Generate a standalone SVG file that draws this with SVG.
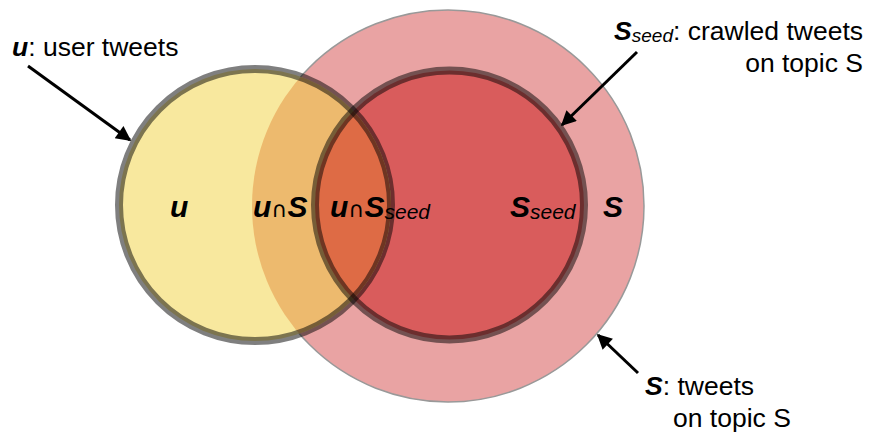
<svg xmlns="http://www.w3.org/2000/svg" width="869" height="432" viewBox="0 0 869 432">
  <style>
    .lbl { font-family: "Liberation Sans", Arial, sans-serif; font-size: 26.5px; fill: #000; }
    .in { font-family: "Liberation Sans", Arial, sans-serif; font-size: 30px; font-weight: bold; font-style: italic; fill: #000; }
    .cap { font-family: "DejaVu Sans", "Liberation Sans", sans-serif; font-size: 22px; font-weight: normal; font-style: normal; }
    .sub { font-size: 21px; font-weight: normal; font-style: italic; }
    .bi { font-weight: bold; font-style: italic; }
    .ring { fill: none; stroke: #000; stroke-opacity: 0.5; stroke-width: 8; }
    .arrow { stroke: #000; stroke-width: 3; fill: none; marker-end: url(#ah); }
  </style>
  <defs>
    <marker id="ah" viewBox="0 0 10 10" refX="9" refY="5" markerWidth="5.5" markerHeight="5" orient="auto" markerUnits="strokeWidth">
      <path d="M0,0 L10,5 L0,10 Z" fill="#000"/>
    </marker>
    <clipPath id="clipU"><circle cx="255" cy="205" r="136"/></clipPath>
  </defs>

  <g id="S">
    <circle cx="448" cy="206" r="196" fill="#E9A3A3" stroke="#999" stroke-width="1.5"/>
  </g>
  <g id="Sseed">
    <circle cx="449.5" cy="205" r="134.5" fill="#D95C5C"/>
  </g>
  <g id="u">
    <circle cx="255" cy="205" r="136" fill="#F8E89E"/>
    <g clip-path="url(#clipU)">
      <circle cx="448" cy="206" r="196" fill="#EDBA6E"/>
      <circle cx="449.5" cy="205" r="134.5" fill="#DE6B45"/>
    </g>
  </g>
  <g id="rings">
    <circle class="ring" cx="255" cy="205" r="136"/>
    <circle class="ring" cx="449.5" cy="205" r="134.5"/>
  </g>

  <g id="inner-labels">
    <text class="in" x="170" y="217">u</text>
    <text class="in" x="253" y="217">u<tspan class="cap">∩</tspan>S</text>
    <text class="in" x="330" y="217">u<tspan class="cap">∩</tspan>S<tspan class="sub" dy="2">seed</tspan></text>
    <text class="in" x="510" y="217">S<tspan class="sub" dy="2">seed</tspan></text>
    <text class="in" x="603" y="217">S</text>
  </g>

  <g id="connectors">
    <line class="arrow" x1="28" y1="66" x2="130" y2="140"/>
    <line class="arrow" x1="637" y1="52" x2="562" y2="125"/>
    <line class="arrow" x1="638" y1="373" x2="598" y2="335"/>
  </g>

  <g id="label-u">
    <text class="lbl" x="12" y="56"><tspan class="bi">u</tspan>: user tweets</text>
  </g>
  <g id="label-Sseed">
    <text class="lbl" x="863" y="40" text-anchor="end"><tspan class="bi">S</tspan><tspan font-size="19" font-style="italic" dy="2">seed</tspan><tspan dy="-2">: crawled tweets</tspan></text>
    <text class="lbl" x="863" y="72" text-anchor="end">on topic S</text>
  </g>
  <g id="label-S">
    <text class="lbl" x="645" y="395"><tspan class="bi">S</tspan>: tweets</text>
    <text class="lbl" x="673" y="427">on topic S</text>
  </g>
</svg>
